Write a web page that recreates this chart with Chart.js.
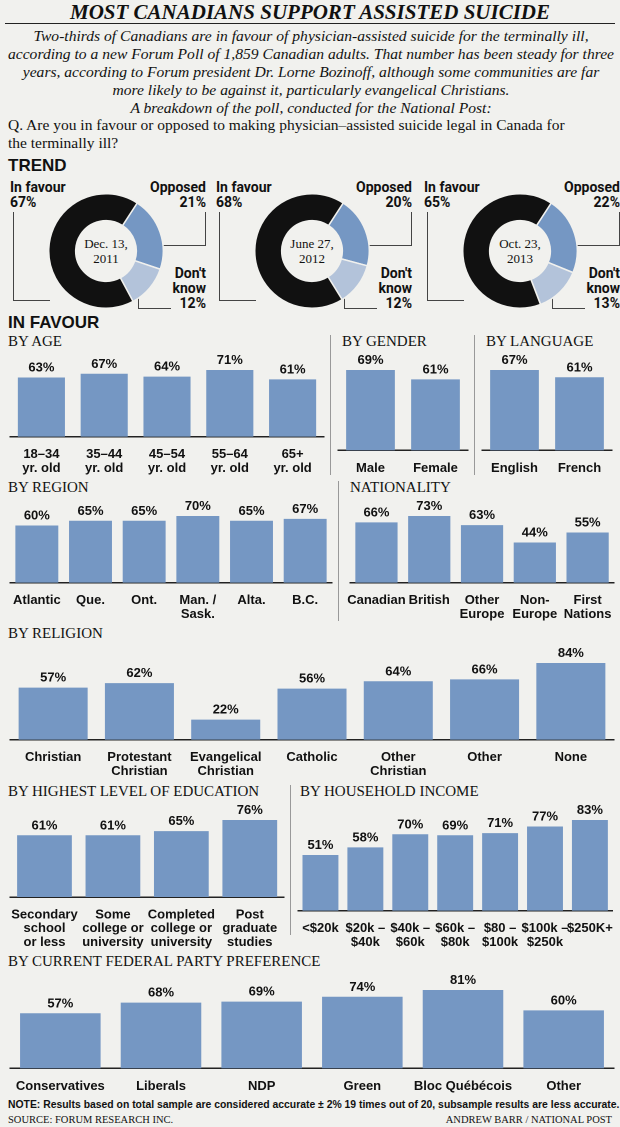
<!DOCTYPE html>
<html><head><meta charset="utf-8">
<script src="https://cdn.jsdelivr.net/npm/chart.js@4/dist/chart.umd.min.js"></script>
<style>
body{margin:0;background:#f1f1ee;width:620px;height:1127px;position:relative;overflow:hidden;font-family:'Liberation Sans Narrow','Roboto',sans-serif;color:#111}
.a{position:absolute}
.h{font-family:'Liberation Serif',serif;font-size:15px}
.b{font-weight:bold}
canvas{position:absolute}
.vl{position:absolute;border-left:1px solid #999}
.lab{position:absolute;font-weight:bold;font-size:14px;line-height:15px}
.ln{position:absolute;border-color:#444;border-style:solid;border-width:0}
</style></head><body>
<div class="a b" style="left:0;width:620px;top:0;text-align:center;font-family:'Liberation Serif',serif;font-style:italic;font-size:21px">MOST CANADIANS SUPPORT ASSISTED SUICIDE</div>
<div class="a" style="left:0;width:620px;top:0;"><div style="margin:23px 5px 0;border-top:1px solid #222"></div></div>
<div class="a" style="left:6px;width:610px;top:27px;text-align:center;font-family:'Liberation Serif',serif;font-style:italic;font-size:15.6px;line-height:18px">Two-thirds of Canadians are in favour of physician-assisted suicide for the terminally ill, according to a new Forum Poll of 1,859 Canadian adults. That number has been steady for three years, according to Forum president Dr. Lorne Bozinoff, although some communi&shy;ties are far more likely to be against it, particularly evangelical Christians.<br>A breakdown of the poll, conducted for the National Post:</div>
<div class="a" style="left:8px;width:560px;top:116px;font-family:'Liberation Serif',serif;font-size:15.5px;line-height:18px">Q. Are you in favour or opposed to making physician–assisted suicide legal in Canada for the terminally ill?</div>
<div class="a b" style="left:8px;top:156px;font-size:17px;font-family:'Liberation Sans',sans-serif">TREND</div>
<div class="a b" style="left:8px;top:313px;font-size:17px;font-family:'Liberation Sans',sans-serif">IN FAVOUR</div>

<div id="donuts"></div>

<div class="a h" style="left:8px;top:333px">BY AGE</div>
<div class="vl" style="left:330px;top:335px;height:140px"></div>
<div class="a h" style="left:342px;top:333px">BY GENDER</div>
<div class="vl" style="left:474px;top:335px;height:140px"></div>
<div class="a h" style="left:486px;top:333px">BY LANGUAGE</div>
<div class="a h" style="left:8px;top:479px">BY REGION</div>
<div class="vl" style="left:338px;top:481px;height:140px"></div>
<div class="a h" style="left:350px;top:479px">NATIONALITY</div>
<div class="a h" style="left:8px;top:625px">BY RELIGION</div>
<div class="a h" style="left:8px;top:783px">BY HIGHEST LEVEL OF EDUCATION</div>
<div class="vl" style="left:290px;top:785px;height:150px"></div>
<div class="a h" style="left:300px;top:783px">BY HOUSEHOLD INCOME</div>
<div class="a h" style="left:8px;top:953px">BY CURRENT FEDERAL PARTY PREFERENCE</div>
<div class="a b" style="left:8px;top:1099px;font-size:10.4px;font-family:'Liberation Sans Narrow',sans-serif;white-space:nowrap">NOTE: Results based on total sample are considered accurate ± 2% 19 times out of 20, subsample results are less accurate.</div>
<div class="a" style="left:8px;top:1114px;font-size:10.5px;font-family:'Liberation Serif',serif">SOURCE: FORUM RESEARCH INC.</div>
<div class="a" style="right:8px;top:1114px;font-size:10.5px;font-family:'Liberation Serif',serif">ANDREW BARR / NATIONAL POST</div>

<script>
const trendDates = [['Dec. 13,', '2011'], ['June 27,', '2012'], ['Oct. 23,', '2013']];
const trendFavour = [67, 68, 65];
const trendOpposed = [21, 20, 22];
const trendDontKnow = [12, 12, 13];

const ageLabels = [['18–34', 'yr. old'], ['35–44', 'yr. old'], ['45–54', 'yr. old'], ['55–64', 'yr. old'], ['65+', 'yr. old']];
const ageValues = [63, 67, 64, 71, 61];
const genderLabels = ['Male', 'Female'];
const genderValues = [69, 61];
const langLabels = ['English', 'French'];
const langValues = [67, 61];
const regionLabels = ['Atlantic', 'Que.', 'Ont.', ['Man. /', 'Sask.'], 'Alta.', 'B.C.'];
const regionValues = [60, 65, 65, 70, 65, 67];
const natLabels = ['Canadian', 'British', ['Other', 'Europe'], ['Non-', 'Europe'], ['First', 'Nations']];
const natValues = [66, 73, 63, 44, 55];
const relLabels = ['Christian', ['Protestant', 'Christian'], ['Evangelical', 'Christian'], 'Catholic', ['Other', 'Christian'], 'Other', 'None'];
const relValues = [57, 62, 22, 56, 64, 66, 84];
const eduLabels = [['Secondary', 'school', 'or less'], ['Some', 'college or', 'university'], ['Completed', 'college or', 'university'], ['Post', 'graduate', 'studies']];
const eduValues = [61, 61, 65, 76];
const incLabels = ['<$20k', ['$20k –', '$40k'], ['$40k –', '$60k'], ['$60k –', '$80k'], ['$80 –', '$100k'], ['$100k –', '$250k'], '$250K+'];
const incValues = [51, 58, 70, 69, 71, 77, 83];
const partyLabels = ['Conservatives', 'Liberals', 'NDP', 'Green', 'Bloc Québécois', 'Other'];
const partyValues = [57, 68, 69, 74, 81, 60];

const BAR = '#7597c3';
const FONT = "'Liberation Sans Narrow', sans-serif";

const valueLabels = {
  id: 'valueLabels',
  afterDatasetsDraw(chart) {
    const ctx = chart.ctx;
    ctx.save();
    ctx.font = 'bold 13px ' + FONT;
    ctx.fillStyle = '#111';
    ctx.textAlign = 'center';
    ctx.textBaseline = 'bottom';
    chart.getDatasetMeta(0).data.forEach((el, i) => {
      ctx.fillText(chart.data.datasets[0].data[i] + '%', el.x, el.y - 3);
    });
    ctx.restore();
  }
};

function makeCanvas(x, y, w, h) {
  const c = document.createElement('canvas');
  c.width = w; c.height = h;
  c.style.left = x + 'px'; c.style.top = y + 'px';
  c.style.width = w + 'px'; c.style.height = h + 'px';
  document.body.appendChild(c);
  return c;
}

function makeBar(x, y, w, h, labels, values, max, pct) {
  const c = makeCanvas(x, y, w, h);
  new Chart(c, {
    type: 'bar',
    data: { labels: labels, datasets: [{ data: values, backgroundColor: BAR, categoryPercentage: pct || 0.75, barPercentage: 1 }] },
    options: {
      responsive: false, animation: false, devicePixelRatio: 2,
      layout: { padding: { top: 20, left: 2, right: 2 } },
      plugins: { legend: { display: false }, tooltip: { enabled: false } },
      scales: {
        x: { grid: { display: false }, border: { color: '#222', width: 1.5 },
             ticks: { color: '#111', font: { family: FONT, size: 13, weight: 'bold', lineHeight: 1.05 }, maxRotation: 0, autoSkip: false, padding: 3 } },
        y: { display: false, min: 0, max: max }
      }
    },
    plugins: [valueLabels]
  });
}

makeBar(8, 350, 318, 128, ageLabels, ageValues, 71);
makeBar(336, 350, 134, 128, genderLabels, genderValues, 69);
makeBar(480, 350, 134, 128, langLabels, langValues, 67);
makeBar(8, 496, 326, 128, regionLabels, regionValues, 70, 0.8);
makeBar(344, 496, 272, 128, natLabels, natValues, 73, 0.8);
makeBar(8, 643, 608, 138, relLabels, relValues, 84, 0.8);
makeBar(8, 800, 278, 152, eduLabels, eduValues, 76, 0.8);
makeBar(296, 800, 320, 152, incLabels, incValues, 83, 0.8);
makeBar(8, 970, 608, 126, partyLabels, partyValues, 81, 0.8);

// trend donuts
const donutX = [10, 216, 424];
const holder = document.getElementById('donuts');
trendDates.forEach((d, i) => {
  const x0 = donutX[i];
  const cx = x0 + 38, cy = 193;
  const c = makeCanvas(cx, cy, 116, 116);
  new Chart(c, {
    type: 'doughnut',
    data: { labels: ['Opposed', "Don't know", 'In favour'],
      datasets: [{ data: [trendOpposed[i], trendDontKnow[i], trendFavour[i]], backgroundColor: ['#7597c3', '#b3c3da', '#111'], borderColor: '#f1f1ee', borderWidth: 1.5 }] },
    options: { responsive: false, animation: false, devicePixelRatio: 2, cutout: '53%', rotation: 33,
      plugins: { legend: { display: false }, tooltip: { enabled: false } } }
  });
  const add = (html, css, cls) => { const e = document.createElement('div'); e.className = cls || 'lab'; e.style.cssText = css; e.innerHTML = html; holder.appendChild(e); };
  add('In favour<br>' + trendFavour[i] + '%', 'left:' + x0 + 'px;top:180px');
  add('Opposed<br>' + trendOpposed[i] + '%', 'left:' + (x0 + 140) + 'px;top:180px;width:56px;text-align:right');
  add("Don't<br>know<br>" + trendDontKnow[i] + '%', 'left:' + (x0 + 160) + 'px;top:266px;width:36px;text-align:right');
  add(d[0] + '<br>' + d[1], 'left:' + (cx + 23) + 'px;top:236px;width:70px;text-align:center;font-family:Liberation Serif,serif;font-size:13px;line-height:15px', 'a');
  add('', 'left:' + (x0 + 3) + 'px;top:212px;width:' + 36 + 'px;height:88px;border-left-width:1px;border-bottom-width:1px', 'ln');
  add('', 'left:' + (x0 + 152) + 'px;top:212px;width:' + 43 + 'px;height:33px;border-right-width:1px;border-bottom-width:1px', 'ln');
  add('', 'left:' + (x0 + 128) + 'px;top:296px;width:' + 32 + 'px;height:12px;border-left-width:1px;border-bottom-width:1px', 'ln');
});
</script>
</body></html>
